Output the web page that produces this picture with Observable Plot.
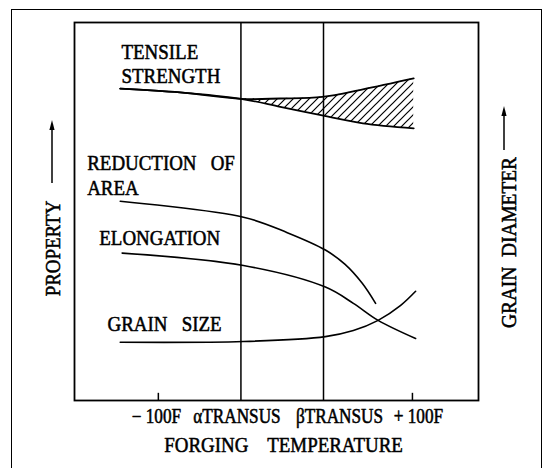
<!DOCTYPE html>
<html><head><meta charset="utf-8">
<script src="https://cdn.jsdelivr.net/npm/d3@7"></script>
<script src="https://cdn.jsdelivr.net/npm/@observablehq/plot@0.6"></script>
<style>
body{margin:0;background:#fff}
#wrap{position:relative;width:549px;height:468px;overflow:hidden;background:#fff}
#border{position:absolute;left:11px;top:9px;width:529px;height:470px;border:1.5px solid #000;border-bottom:none;pointer-events:none}
#chart svg text{font-family:"Liberation Serif","DejaVu Serif",serif}
</style></head>
<body><div id="wrap"><div id="chart"></div><div id="border"></div></div>
<script>
// Tick values (forging temperature relative scale) and labels
const tickValues = [-100, -35, 30, 100];
const tickLabels = ["\u2212 100F", "\u03b1TRANSUS", "\u03b2TRANSUS", "+ 100F"];
const transusX = [-35, 30];
const endTicks = [-100, 100];

// Tensile strength: common branch then scatter band (upper / lower)
const tensileX = [-130, -83, -35, -4, 29, 61, 101];
const tensileUpper = [82.5, 81.5, 79.8, 79.9, 80.3, 82.3, 85.2];
const tensileLower = [82.5, 81.5, 79.8, 77.7, 75.4, 73.3, 72.0];

// Reduction of area
const raX = [-130, -33, 1.5, 31.5, 47, 60.5, 71];
const raY = [52.7, 48.5, 44.4, 39.8, 36.0, 31.0, 25.7];

// Elongation
const elX = [-128.5, -33, 31.5, 53.5, 73, 102.5];
const elY = [39.0, 35.7, 30.0, 25.7, 21.2, 16.4];

// Grain size
const gsX = [-130, -33, 31.5, 53.5, 73, 90.5, 102.5];
const gsY = [15.4, 15.6, 16.9, 18.5, 21.2, 25.1, 28.9];

// Curve labels and anchors
const curveLabels = ["TENSILE\nSTRENGTH", "REDUCTION\u00a0\u00a0\u00a0OF\nAREA", "ELONGATION", "GRAIN\u00a0\u00a0\u00a0SIZE"];
const labelX = [-129, -156, -146.5, -140];
const labelY = [89.1, 59.7, 43.0, 20.2];
const labelLead = [1.08, 1.1, 1.0, 1.0];

const xTitle = "FORGING\u00a0\u00a0\u00a0\u00a0TEMPERATURE";
const yTitle = "PROPERTY";
const y2Title = "GRAIN\u00a0\u00a0DIAMETER";

const tensile = tensileX.map((x, i) => ({x, hi: tensileUpper[i], lo: tensileLower[i]}));
const band = tensile.filter(d => d.x >= -35);
const toRows = (xs, ys) => xs.map((x, i) => ({x, y: ys[i]}));

const serif = "'Liberation Serif', 'DejaVu Serif', serif";
const txt = {fill: "black", stroke: "black", strokeWidth: 0.55, fontFamily: serif, lineAnchor: "middle"};
const curve = "catmull-rom";
const tickDx = [-2, -4, 16, 6];

const plot = Plot.plot({
  width: 549, height: 468,
  marginLeft: 74, marginRight: 71, marginTop: 22, marginBottom: 68,
  x: {domain: [-166, 152], axis: null},
  y: {domain: [0, 100], axis: null},
  style: {fontFamily: serif, background: "white", color: "black"},
  marks: [
    Plot.areaY(band, {x: "x", y1: "lo", y2: "hi", curve, fill: "url(#hatch)"}),
    Plot.ruleX(transusX, {stroke: "black", strokeWidth: 1.5}),
    Plot.ruleX(endTicks, {y1: 0, y2: 1.9, stroke: "black", strokeWidth: 1.5}),
    Plot.frame({stroke: "black", strokeWidth: 1.8}),
    Plot.line(tensile, {x: "x", y: "hi", curve, stroke: "black", strokeWidth: 1.8}),
    Plot.line(tensile, {x: "x", y: "lo", curve, stroke: "black", strokeWidth: 1.8}),
    Plot.line(toRows(raX, raY), {x: "x", y: "y", curve, stroke: "black", strokeWidth: 1.6}),
    Plot.line(toRows(elX, elY), {x: "x", y: "y", curve, stroke: "black", strokeWidth: 1.6}),
    Plot.line(toRows(gsX, gsY), {x: "x", y: "y", curve, stroke: "black", strokeWidth: 1.6}),
    ...curveLabels.map((t, i) => Plot.text([t], {x: [labelX[i]], y: [labelY[i]], text: d => d, textAnchor: "start", lineHeight: labelLead[i], fontSize: 22, ...txt})),
    ...tickValues.map((v, i) => Plot.text([tickLabels[i]], {x: [v], text: d => d, frameAnchor: "bottom", textAnchor: "middle", dy: 16, dx: tickDx[i], fontSize: 20, ...txt})),
    Plot.text([xTitle], {text: d => d, frameAnchor: "bottom", textAnchor: "middle", dy: 44, dx: 7, fontSize: 22, ...txt}),
    Plot.text([yTitle], {text: d => d, frameAnchor: "left", textAnchor: "middle", dx: -22, dy: 37, rotate: -90, fontSize: 22, ...txt}),
    Plot.text([y2Title], {text: d => d, frameAnchor: "right", textAnchor: "middle", dx: 30, dy: 31, rotate: -90, fontSize: 22, ...txt})
  ]
});

document.getElementById("chart").appendChild(plot);
const svg = d3.select(plot);

// hatch pattern
const pat = svg.insert("defs", ":first-child").append("pattern")
  .attr("id", "hatch").attr("patternUnits", "userSpaceOnUse")
  .attr("width", 8).attr("height", 8);
pat.append("path").attr("d", "M-2,2 L2,-2 M0,8 L8,0 M6,10 L10,6")
  .attr("stroke", "black").attr("stroke-width", 1.2).attr("fill", "none");

// condensed lettering
const squeeze = {};
squeeze[y2Title] = 0.88;
function condense(el, f) {
  const L = el.getComputedTextLength();
  if (L > 0) {
    el.setAttribute("textLength", L * f);
    el.setAttribute("lengthAdjust", "spacingAndGlyphs");
  }
}
svg.selectAll("text").each(function() {
  const spans = this.querySelectorAll("tspan");
  if (spans.length) spans.forEach(s => condense(s, 0.86));
  else condense(this, squeeze[this.textContent] ?? 0.86);
});

// arrows beside the axis titles
const ml = 74, fr = 549 - 71;
const ag = svg.append("g");
function arrow(x, yFrom, yTip) {
  ag.append("line").attr("x1", x).attr("x2", x).attr("y1", yFrom).attr("y2", yTip + 8)
    .attr("stroke", "black").attr("stroke-width", 1.5);
  ag.append("path").attr("d", `M${x},${yTip} L${x - 2.6},${yTip + 10} L${x + 2.6},${yTip + 10} Z`)
    .attr("fill", "black");
}
arrow(ml - 22, 183, 120);
arrow(fr + 26, 150, 106);
</script>
</body></html>
